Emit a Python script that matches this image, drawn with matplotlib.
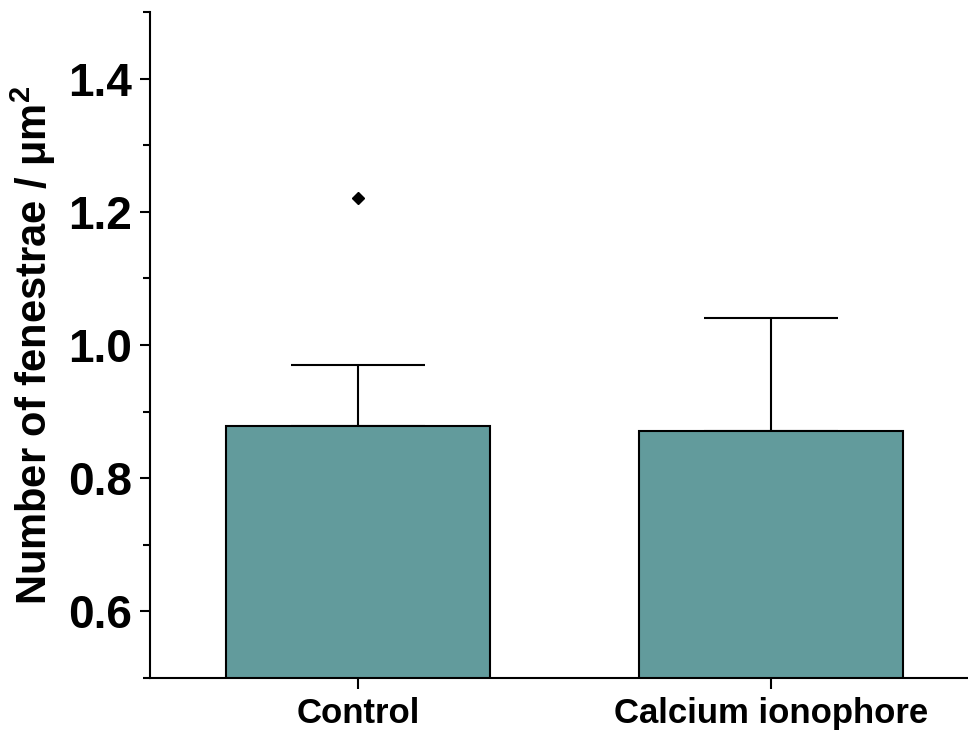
import matplotlib
matplotlib.use("Agg")
import matplotlib.pyplot as plt
from matplotlib.ticker import MultipleLocator

groups = ["Control", "Calcium ionophore"]
means = [0.878, 0.871]
errs = [0.092, 0.169]
outlier_x = [0]
outlier_y = [1.221]

plt.rcParams["font.family"] = ["Liberation Sans", "DejaVu Sans"]
plt.rcParams["font.weight"] = "bold"
plt.rcParams["mathtext.fontset"] = "custom"
plt.rcParams["mathtext.rm"] = "Liberation Sans:bold"
plt.rcParams["mathtext.bf"] = "Liberation Sans:bold"

fig = plt.figure(figsize=(9.68, 7.33), dpi=100)
ax = fig.add_axes([0.155, 0.075, 0.845, 0.9086])

xpos = [1, 2]
ax.bar(xpos, means, width=0.64, bottom=0, color="#629b9c", edgecolor="black", linewidth=1.5, zorder=2)
ax.errorbar(xpos, means, yerr=[[0, 0], errs], fmt="none", ecolor="black", elinewidth=1.5,
            capsize=48, capthick=1.5, zorder=1)
ax.plot([xpos[i] for i in outlier_x], outlier_y, "D", color="black", markersize=6)

ax.set_xlim(0.496, 2.477)
ax.set_ylim(0.5, 1.5)
ax.yaxis.set_minor_locator(MultipleLocator(0.1))
ax.set_xticks(xpos)
ax.set_xticklabels(groups, fontsize=25, fontweight="bold")
ax.set_yticks([0.6, 0.8, 1.0, 1.2, 1.4])
ax.set_yticklabels(["0.6", "0.8", "1.0", "1.2", "1.4"], fontsize=33, fontweight="bold")
ax.tick_params(axis="y", which="major", length=7, width=1.5, direction="out", pad=6)
ax.tick_params(axis="y", which="minor", length=5, width=1.5, direction="out")
ax.tick_params(axis="x", length=8, width=1.5, direction="out", pad=6)

ax.set_ylabel("Number of fenestrae / μm$^\\mathrm{2}$", fontsize=30, fontweight="bold", labelpad=7)

for s in ["top", "right"]:
    ax.spines[s].set_visible(False)
for s in ["left", "bottom"]:
    ax.spines[s].set_linewidth(1.5)

fig.savefig("out.png", dpi=100)
